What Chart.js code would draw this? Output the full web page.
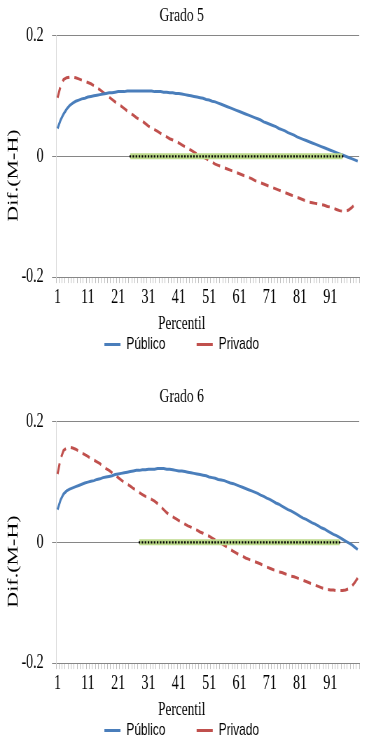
<!DOCTYPE html>
<html>
<head>
<meta charset="utf-8">
<script src="https://cdn.jsdelivr.net/npm/chart.js@4/dist/chart.umd.min.js"></script>
<style>
  html, body { margin: 0; padding: 0; overflow: hidden; background: #fff; }
  /* the reference picture is squeezed horizontally, so draw wide and squash */
  .squash { width: 547px; transform: scaleX(0.7002); transform-origin: 0 0; }
  canvas { display: block; }
</style>
</head>
<body>
<div class="squash" style="height:386px"><canvas id="grado5" width="547" height="386"></canvas></div>
<div class="squash" style="height:363px"><canvas id="grado6" width="547" height="363"></canvas></div>
<script>
const _ = null;

// categories: percentiles 1..100
const percentiles = Array.from({ length: 100 }, (v, i) => i + 1);
const shownTicks = [1, 11, 21, 31, 41, 51, 61, 71, 81, 91];
const yTickLabels = { '-0.2': '-0.2', '0': '0', '0.2': '0.2' };

// Grado 5
const publico5 = [
  0.046, 0.060, 0.070, 0.078, 0.084, 0.088, 0.091, 0.093, 0.095, 0.096,
  0.098, 0.099, 0.100, 0.101, 0.102, 0.103, 0.104, 0.105, 0.105, 0.106,
  0.107, 0.107, 0.107, 0.108, 0.108, 0.108, 0.108, 0.108, 0.108, 0.108,
  0.108, 0.108, 0.107, 0.107, 0.107, 0.106, 0.106, 0.105, 0.105, 0.104,
  0.104, 0.103, 0.102, 0.101, 0.100, 0.099, 0.098, 0.097, 0.096, 0.094,
  0.093, 0.091, 0.090, 0.088, 0.086, 0.084, 0.082, 0.080, 0.078, 0.076,
  0.074, 0.072, 0.070, 0.068, 0.066, 0.064, 0.062, 0.060, 0.057, 0.055,
  0.053, 0.051, 0.049, 0.046, 0.044, 0.042, 0.039, 0.037, 0.035, 0.032,
  0.030, 0.028, 0.026, 0.024, 0.022, 0.020, 0.018, 0.016, 0.014, 0.012,
  0.010, 0.008, 0.006, 0.004, 0.002, 0.000, -0.002, -0.004, -0.006, -0.008
];
const privado5 = [
  0.097, 0.116, 0.127, 0.130, 0.131, 0.131, 0.130, 0.128, 0.126, 0.124,
  0.122, 0.120, 0.117, 0.113, 0.110, 0.106, 0.102, 0.098, 0.094, 0.090,
  0.086, 0.083, 0.079, 0.075, 0.071, 0.068, 0.064, 0.061, 0.058, 0.054,
  0.050, 0.047, 0.044, 0.041, 0.038, 0.035, 0.032, 0.029, 0.027, 0.024,
  0.022, 0.019, 0.016, 0.013, 0.010, 0.007, 0.004, 0.001, -0.001, -0.004,
  -0.007, -0.010, -0.013, -0.015, -0.017, -0.019, -0.021, -0.023, -0.025, -0.027,
  -0.029, -0.031, -0.033, -0.035, -0.037, -0.040, -0.042, -0.044, -0.046, -0.048,
  -0.050, -0.052, -0.054, -0.056, -0.058, -0.060, -0.062, -0.064, -0.066, -0.068,
  -0.070, -0.072, -0.074, -0.076, -0.077, -0.078, -0.079, -0.080, -0.081, -0.083,
  -0.084, -0.086, -0.088, -0.090, -0.091, -0.091, -0.089, -0.085, -0.080, _
];
const signif5 = [
  _, _, _, _, _, _, _, _, _, _,
  _, _, _, _, _, _, _, _, _, _,
  _, _, _, _, 0, 0, 0, 0, 0, 0,
  0, 0, 0, 0, 0, 0, 0, 0, 0, 0,
  0, 0, 0, 0, 0, 0, 0, 0, 0, 0,
  0, 0, 0, 0, 0, 0, 0, 0, 0, 0,
  0, 0, 0, 0, 0, 0, 0, 0, 0, 0,
  0, 0, 0, 0, 0, 0, 0, 0, 0, 0,
  0, 0, 0, 0, 0, 0, 0, 0, 0, 0,
  0, 0, 0, 0, 0, _, _, _, _, _
];

// Grado 6
const publico6 = [
  0.054, 0.070, 0.080, 0.085, 0.088, 0.090, 0.092, 0.094, 0.096, 0.098,
  0.0995, 0.101, 0.102, 0.104, 0.105, 0.107, 0.108, 0.109, 0.110, 0.112,
  0.113, 0.114, 0.115, 0.116, 0.117, 0.118, 0.119, 0.119, 0.120, 0.120,
  0.121, 0.121, 0.121, 0.122, 0.122, 0.122, 0.121, 0.121, 0.120, 0.119,
  0.118, 0.118, 0.117, 0.116, 0.115, 0.114, 0.113, 0.112, 0.111, 0.110,
  0.108, 0.107, 0.106, 0.104, 0.103, 0.102, 0.100, 0.098, 0.097, 0.095,
  0.093, 0.091, 0.089, 0.087, 0.085, 0.083, 0.081, 0.078, 0.076, 0.073,
  0.071, 0.068, 0.065, 0.063, 0.060, 0.057, 0.054, 0.052, 0.049, 0.046,
  0.043, 0.040, 0.038, 0.035, 0.032, 0.030, 0.027, 0.024, 0.022, 0.019,
  0.016, 0.013, 0.011, 0.008, 0.005, 0.002, -0.001, -0.004, -0.008, -0.012
];
const privado6 = [
  0.113, 0.138, 0.152, 0.156, 0.157, 0.156, 0.154, 0.151, 0.148, 0.145,
  0.142, 0.139, 0.136, 0.133, 0.130, 0.126, 0.122, 0.119, 0.115, 0.111,
  0.107, 0.103, 0.099, 0.096, 0.093, 0.089, 0.086, 0.082, 0.079, 0.076,
  0.074, 0.071, 0.068, 0.064, 0.059, 0.054, 0.049, 0.045, 0.042, 0.039,
  0.036, 0.033, 0.030, 0.027, 0.025, 0.022, 0.020, 0.017, 0.015, 0.012,
  0.010, 0.007, 0.004, 0.001, -0.002, -0.005, -0.008, -0.012, -0.015, -0.018,
  -0.021, -0.023, -0.026, -0.028, -0.030, -0.032, -0.034, -0.036, -0.039, -0.041,
  -0.043, -0.045, -0.047, -0.049, -0.050, -0.052, -0.054, -0.056, -0.057, -0.059,
  -0.061, -0.063, -0.065, -0.067, -0.069, -0.071, -0.073, -0.075, -0.077, -0.078,
  -0.079, -0.079, -0.080, -0.080, -0.080, -0.079, -0.077, -0.073, -0.067, -0.059
];
const signif6 = [
  _, _, _, _, _, _, _, _, _, _,
  _, _, _, _, _, _, _, _, _, _,
  _, _, _, _, _, _, _, 0, 0, 0,
  0, 0, 0, 0, 0, 0, 0, 0, 0, 0,
  0, 0, 0, 0, 0, 0, 0, 0, 0, 0,
  0, 0, 0, 0, 0, 0, 0, 0, 0, 0,
  0, 0, 0, 0, 0, 0, 0, 0, 0, 0,
  0, 0, 0, 0, 0, 0, 0, 0, 0, 0,
  0, 0, 0, 0, 0, 0, 0, 0, 0, 0,
  0, 0, 0, 0, _, _, _, _, _, _
];

const serif = "'Liberation Serif', 'Times New Roman', serif";
const sans = "'Liberation Sans', Arial, sans-serif";
const nbsp = '\u00a0';

function drawGrado(id, titleText, publico, privado, signif, titlePad, bottomPad) {
  new Chart(document.getElementById(id), {
    type: 'line',
    data: {
      labels: percentiles,
      datasets: [
        { label: 'Público', data: publico, borderColor: '#4a7ebb', borderWidth: 3,
          pointRadius: 0, order: 1 },
        { label: 'Privado', data: privado, borderColor: '#c0504d', borderWidth: 3,
          borderDash: [11, 7], pointRadius: 0, order: 1 },
        { label: 'sig', data: signif, borderColor: '#bcd98a', borderWidth: 6,
          pointStyle: 'rect', pointRadius: 1.6, pointBackgroundColor: '#000',
          pointBorderWidth: 0, order: 0 }
      ]
    },
    options: {
      responsive: false,
      animation: false,
      devicePixelRatio: 1,
      layout: { padding: { left: 6, right: 34, top: 0, bottom: bottomPad } },
      plugins: {
        title: {
          display: true, text: titleText, color: '#000',
          font: { family: serif, size: 19.5, weight: 'normal', lineHeight: 1.15 },
          padding: titlePad
        },
        subtitle: {
          display: true, position: 'bottom', text: 'Percentil', color: '#000',
          weight: 500,
          font: { family: serif, size: 19, weight: 'normal', lineHeight: 1.1 },
          padding: 0
        },
        legend: {
          position: 'bottom',
          labels: {
            color: '#000',
            font: { family: sans, size: 17 },
            usePointStyle: true,
            pointStyle: 'line',
            pointStyleWidth: 23,
            padding: 2,
            generateLabels(chart) {
              const items = Chart.defaults.plugins.legend.labels.generateLabels(chart)
                .filter(it => it.datasetIndex < 2);
              items[0].text += nbsp.repeat(9);
              return items;
            }
          }
        },
        tooltip: { enabled: false }
      },
      scales: {
        x: {
          type: 'category',
          offset: true,
          grid: { offset: true, drawOnChartArea: false, drawTicks: true, tickLength: 6, color: '#bfbfbf' },
          border: { display: true, color: '#868686' },
          ticks: {
            autoSkip: false, maxRotation: 0, minRotation: 0, padding: 4, color: '#000',
            font: { family: serif, size: 20, lineHeight: 1.1 },
            callback: (v, i) => shownTicks.includes(percentiles[i]) ? String(percentiles[i]) : ''
          }
        },
        y: {
          min: -0.2, max: 0.2,
          afterFit(scale) { scale.width = 74; },
          ticks: {
            stepSize: 0.2, padding: 12, color: '#000',
            font: { family: serif, size: 20 },
            callback: v => yTickLabels[String(Math.round(v * 10) / 10)]
          },
          grid: { color: '#868686', tickLength: 5.7 },
          border: { color: '#d9d9d9' },
          title: {
            display: true, text: 'Dif.(M-H)' + nbsp.repeat(7), color: '#000',
            font: { family: serif, size: 22 }, padding: 0
          }
        }
      }
    }
  });
}

drawGrado('grado5', 'Grado 5', publico5, privado5, signif5, { top: 5, bottom: 8 }, 23);
drawGrado('grado6', 'Grado 6', publico6, privado6, signif6, { top: 0, bottom: 13 }, 0);
</script>
</body>
</html>
